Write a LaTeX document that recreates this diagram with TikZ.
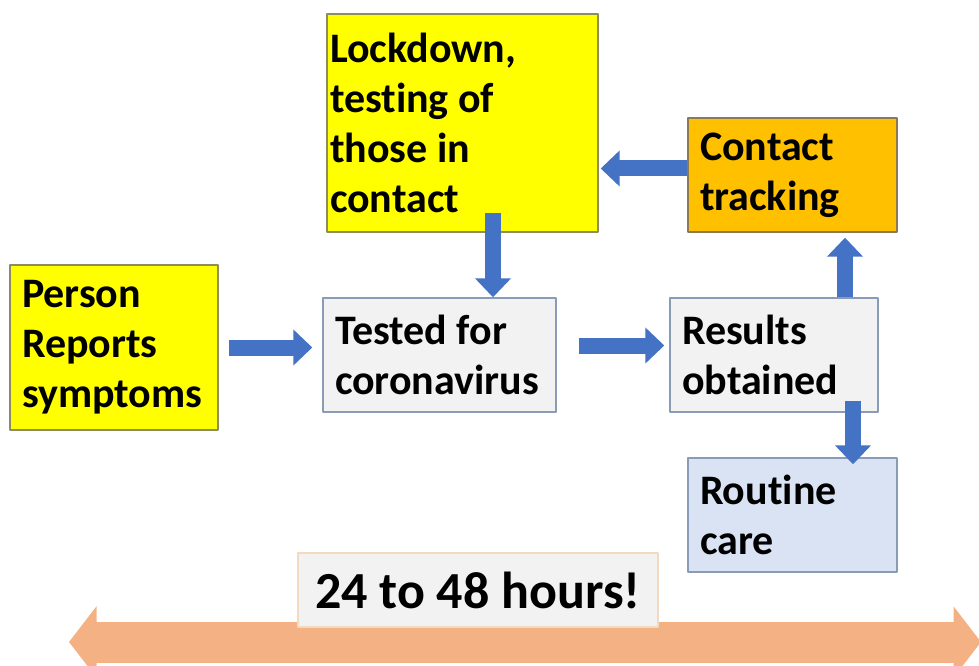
\documentclass[tikz,border=0pt]{standalone}
\usepackage{fontspec}
\setmainfont{Carlito}[Ligatures=NoCommon]
\usetikzlibrary{arrows.meta}
\definecolor{vang}{HTML}{FFFF00}
\definecolor{vienvang}{HTML}{8C8C5E}
\definecolor{camdam}{HTML}{FFC000}
\definecolor{viencam}{HTML}{8C7A52}
\definecolor{xam}{HTML}{F2F2F2}
\definecolor{vienxam}{HTML}{8A9BB8}
\definecolor{xanhnhat}{HTML}{DAE3F3}
\definecolor{xanh}{HTML}{4472C4}
\definecolor{cam}{HTML}{F4B183}
\definecolor{vienhong}{HTML}{F2D9C2}
\begin{document}
\begin{tikzpicture}[line join=round,
        hop/.style={draw=#1, line width=0.8pt, inner ysep=0pt, align=flush left,
            font=\fontsize{23.9}{28.45}\selectfont\bfseries},
        muiten/.style={draw=xanh, line width=0.32cm, -{Triangle[length=0.38cm,width=0.7cm]}}]
    %%Khung
    \useasboundingbox (0,0) rectangle (19.58,13.3);
    %%Trục thời gian
    \coordinate (T1) at (1.38,0.46);
    \coordinate (T2) at (19.62,0.46);
    \draw[draw=cam, line width=0.82cm,
        {Triangle[length=0.55cm,width=1.4cm]}-{Triangle[length=0.55cm,width=1.4cm]}] (T1)--(T2);
    %%Các ô
    \node[hop=vienvang, fill=vang, text width=3.68cm, inner xsep=0.24cm, minimum height=3.3cm] (person) at (2.28,6.35) {Person\\Reports\\symptoms};
    \node[hop=vienvang, fill=vang, text width=5.3cm, inner xsep=0.06cm, minimum height=4.36cm] (lock) at (9.25,10.84) {Lockdown,\\testing of\\those in\\contact};
    \node[hop=vienxam, fill=xam, text width=4.18cm, inner xsep=0.24cm, minimum height=2.28cm] (tested) at (8.79,6.2) {Tested for\\coronavirus};
    \node[hop=vienxam, fill=xam, text width=3.68cm, inner xsep=0.24cm, minimum height=2.28cm] (results) at (15.48,6.2) {Results\\obtained};
    \node[hop=viencam, fill=camdam, text width=3.7cm, inner xsep=0.24cm, minimum height=2.28cm] (contact) at (15.85,9.8) {Contact\\tracking};
    \node[hop=vienxam, fill=xanhnhat, text width=3.7cm, inner xsep=0.24cm, minimum height=2.28cm] (routine) at (15.85,3) {Routine\\care};
    \node[draw=vienhong, fill=xam, line width=0.8pt, minimum width=7.2cm, minimum height=1.48cm,
        font=\fontsize{29.6}{34}\selectfont\bfseries] (hours) at (9.56,1.5) {24 to 48 hours!};
    %%Mũi tên
    \draw[muiten] ([xshift=0.2cm]person.east) -- ([xshift=-0.2cm]person.east -| tested.west);
    \draw[muiten] ([xshift=0.44cm,yshift=0.19cm]tested.east) -- ([xshift=-0.1cm,yshift=0.19cm]tested.east -| results.west);
    \draw[muiten] ([xshift=0.61cm,yshift=0.4cm]lock.south) -- ([xshift=0.61cm]lock.south |- tested.north);
    \draw[muiten] ([yshift=0.13cm]contact.west) -- ([xshift=0.04cm,yshift=0.13cm]contact.west -| lock.east);
    \draw[muiten] ([xshift=1.42cm]results.north) -- ([xshift=1.42cm,yshift=-0.1cm]results.north |- contact.south);
    \draw[muiten] ([xshift=1.58cm,yshift=0.24cm]results.south) -- ([xshift=1.58cm,yshift=-0.14cm]results.south |- routine.north);
\end{tikzpicture}
\end{document}
